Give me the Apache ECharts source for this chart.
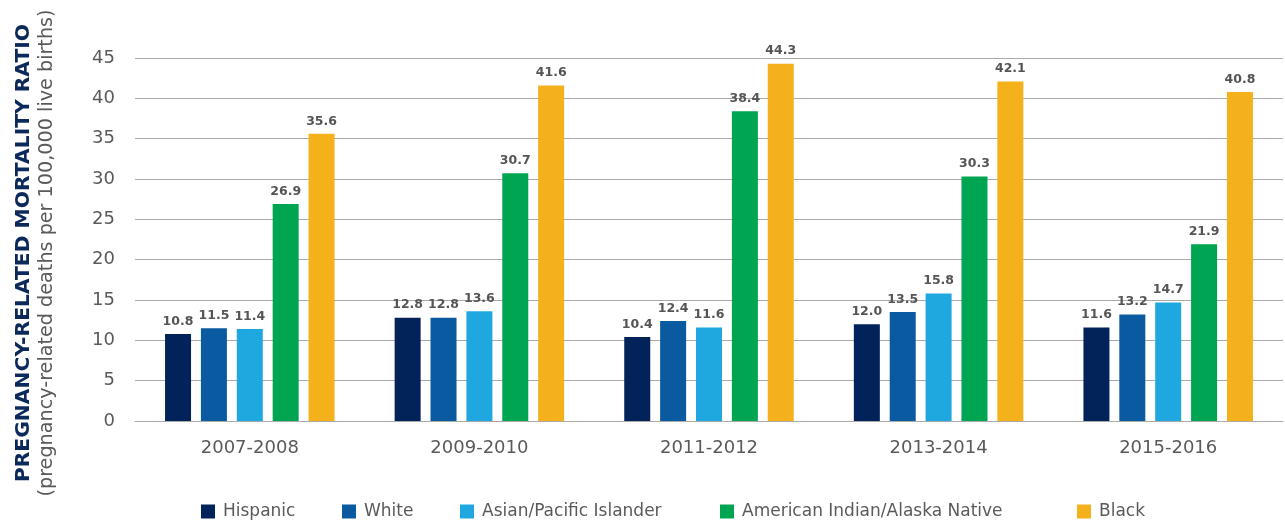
<!DOCTYPE html>
<html>
<head>
<meta charset="utf-8">
<script src="https://cdn.jsdelivr.net/npm/echarts@6/dist/echarts.min.js"></script>
<style>
  html, body { margin: 0; padding: 0; background: #fff; }
  #chart { width: 1285px; height: 523px; }
</style>
</head>
<body>
<div id="chart"></div>
<script>
var periods = ['2007-2008', '2009-2010', '2011-2012', '2013-2014', '2015-2016'];
var hispanic = [10.8, 12.8, 10.4, 12.0, 11.6];
var white = [11.5, 12.8, 12.4, 13.5, 13.2];
var asianPI = [11.4, 13.6, 11.6, 15.8, 14.7];
var aian = [26.9, 30.7, 38.4, 30.3, 21.9];
var black = [35.6, 41.6, 44.3, 42.1, 40.8];
var yTicks = [0, 5, 10, 15, 20, 25, 30, 35, 40, 45];

var font = '"DejaVu Sans", sans-serif';
var seriesDefs = [
    { name: 'Hispanic', data: hispanic, color: '#02225a' },
    { name: 'White', data: white, color: '#0a5aa1' },
    { name: 'Asian/Pacific Islander', data: asianPI, color: '#1fa8e0' },
    { name: 'American Indian/Alaska Native', data: aian, color: '#00a551' },
    { name: 'Black', data: black, color: '#f4b11c' }
];
// legend is spread unevenly in the original, so one legend per item
var legendLeft = [196, 337, 455, 715, 1072];

var dom = document.getElementById('chart');
var myChart = echarts.init(dom);
var option = {
    animation: false,
    textStyle: { fontFamily: font },
    grid: { left: 135, right: 2, top: 58, bottom: 102 },
    legend: seriesDefs.map(function (s, i) {
        return {
            left: legendLeft[i],
            top: 498,
            itemWidth: 14,
            itemHeight: 14,
            icon: 'rect',
            textStyle: { fontSize: 17, color: '#5a5a5a', fontFamily: font, padding: [0, 0, 0, 3] },
            data: [s.name]
        };
    }),
    xAxis: {
        type: 'category',
        data: periods,
        axisTick: { show: false },
        axisLine: { lineStyle: { color: '#aaa', width: 1 } },
        axisLabel: { fontSize: 18, color: '#5a5a5a', margin: 18 }
    },
    yAxis: {
        type: 'value',
        min: yTicks[0],
        max: yTicks[yTicks.length - 1],
        interval: 5,
        axisLine: { show: false },
        axisTick: { show: false },
        splitLine: { lineStyle: { color: '#aaa', width: 1 } },
        axisLabel: { fontSize: 18, color: '#5a5a5a', margin: 20 }
    },
    graphic: [
        {
            type: 'text',
            x: 24, y: 253,
            rotation: Math.PI / 2,
            style: {
                text: 'PREGNANCY-RELATED MORTALITY RATIO',
                fill: '#0b2a5b',
                font: 'bold 20.3px ' + font,
                align: 'center',
                verticalAlign: 'middle'
            }
        },
        {
            type: 'text',
            x: 47, y: 253,
            rotation: Math.PI / 2,
            style: {
                text: '(pregnancy-related deaths per 100,000 live births)',
                fill: '#5a5a5a',
                font: '19.2px ' + font,
                align: 'center',
                verticalAlign: 'middle'
            }
        }
    ],
    series: seriesDefs.map(function (s) {
        return {
            name: s.name,
            type: 'bar',
            data: s.data,
            barWidth: 26,
            barGap: '38%',
            itemStyle: { color: s.color },
            label: {
                show: true,
                position: 'top',
                distance: 6,
                fontSize: 12.5,
                fontWeight: 'bold',
                color: '#555',
                formatter: function (p) { return p.value.toFixed(1); }
            }
        };
    })
};

if (option && typeof option === "object") {
    myChart.setOption(option, true);
}
</script>
</body>
</html>
